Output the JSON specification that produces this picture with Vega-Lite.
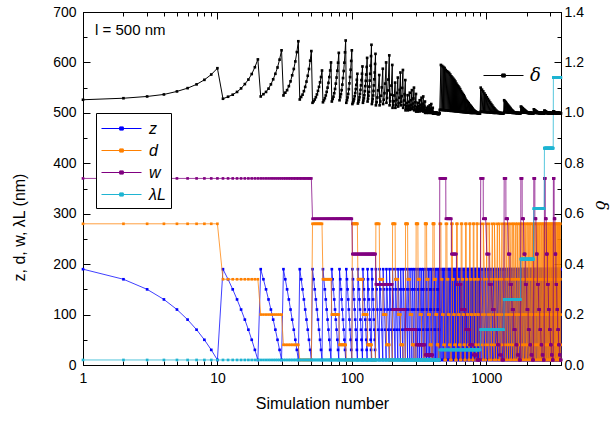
{
"$schema": "https://vega.github.io/schema/vega-lite/v6.json",
"width": 478, "height": 353,
"autosize": {"type": "none"},
"padding": {"left": 83, "top": 12, "right": 50, "bottom": 58},
"config": {
 "font": "Liberation Sans",
 "view": {"stroke": "black", "strokeWidth": 1},
 "axis": {"grid": false, "domainColor": "black", "tickColor": "black", "labelColor": "black", "titleColor": "black", "labelFont": "Liberation Sans", "titleFont": "Liberation Sans", "labelFontSize": 14, "titleFontSize": 16, "titleFontWeight": "normal", "labelFlush": false, "labelOverlap": false, "labelBound": false, "zindex": 1, "tickWidth": 1, "domainWidth": 1}
},
"datasets": {"sim": [
{"n":1,"z":190,"d":280,"w":370,"l":10,"s":1.052},{"n":2,"z":170,"d":280,"w":370,"l":10,"s":1.058},{"n":3,"z":150,"d":280,"w":370,"l":10,"s":1.065},{"n":4,"z":130,"d":280,"w":370,"l":10,"s":1.073},{"n":5,"z":110,"d":280,"w":370,"l":10,"s":1.085},{"n":6,"z":90,"d":280,"w":370,"l":10,"s":1.098},{"n":7,"z":70,"d":280,"w":370,"l":10,"s":1.113},{"n":8,"z":50,"d":280,"w":370,"l":10,"s":1.131},{"n":9,"z":30,"d":280,"w":370,"l":10,"s":1.152},{"n":10,"z":10,"d":280,"w":370,"l":10,"s":1.177},
{"n":11,"z":190,"d":170,"w":370,"l":10,"s":1.056},{"n":12,"z":170,"d":170,"w":370,"l":10,"s":1.064},{"n":13,"z":150,"d":170,"w":370,"l":10,"s":1.072},{"n":14,"z":130,"d":170,"w":370,"l":10,"s":1.083},{"n":15,"z":110,"d":170,"w":370,"l":10,"s":1.097},{"n":16,"z":90,"d":170,"w":370,"l":10,"s":1.114},{"n":17,"z":70,"d":170,"w":370,"l":10,"s":1.132},{"n":18,"z":50,"d":170,"w":370,"l":10,"s":1.154},{"n":19,"z":30,"d":170,"w":370,"l":10,"s":1.181},{"n":20,"z":10,"d":170,"w":370,"l":10,"s":1.212},
{"n":21,"z":190,"d":100,"w":370,"l":10,"s":1.065},{"n":22,"z":170,"d":100,"w":370,"l":10,"s":1.074},{"n":23,"z":150,"d":100,"w":370,"l":10,"s":1.083},{"n":24,"z":130,"d":100,"w":370,"l":10,"s":1.096},{"n":25,"z":110,"d":100,"w":370,"l":10,"s":1.113},{"n":26,"z":90,"d":100,"w":370,"l":10,"s":1.133},{"n":27,"z":70,"d":100,"w":370,"l":10,"s":1.155},{"n":28,"z":50,"d":100,"w":370,"l":10,"s":1.18},{"n":29,"z":30,"d":100,"w":370,"l":10,"s":1.211},{"n":30,"z":10,"d":100,"w":370,"l":10,"s":1.248},
{"n":31,"z":190,"d":40,"w":370,"l":10,"s":1.069},{"n":32,"z":170,"d":40,"w":370,"l":10,"s":1.08},{"n":33,"z":150,"d":40,"w":370,"l":10,"s":1.09},{"n":34,"z":130,"d":40,"w":370,"l":10,"s":1.106},{"n":35,"z":110,"d":40,"w":370,"l":10,"s":1.125},{"n":36,"z":90,"d":40,"w":370,"l":10,"s":1.149},{"n":37,"z":70,"d":40,"w":370,"l":10,"s":1.174},{"n":38,"z":50,"d":40,"w":370,"l":10,"s":1.204},{"n":39,"z":30,"d":40,"w":370,"l":10,"s":1.241},{"n":40,"z":10,"d":40,"w":370,"l":10,"s":1.284},
{"n":41,"z":190,"d":10,"w":370,"l":10,"s":1.053},{"n":42,"z":170,"d":10,"w":370,"l":10,"s":1.063},{"n":43,"z":150,"d":10,"w":370,"l":10,"s":1.072},{"n":44,"z":130,"d":10,"w":370,"l":10,"s":1.086},{"n":45,"z":110,"d":10,"w":370,"l":10,"s":1.103},{"n":46,"z":90,"d":10,"w":370,"l":10,"s":1.124},{"n":47,"z":70,"d":10,"w":370,"l":10,"s":1.147},{"n":48,"z":50,"d":10,"w":370,"l":10,"s":1.174},{"n":49,"z":30,"d":10,"w":370,"l":10,"s":1.207},{"n":50,"z":10,"d":10,"w":370,"l":10,"s":1.245},
{"n":51,"z":190,"d":280,"w":290,"l":10,"s":1.04},{"n":52,"z":170,"d":280,"w":290,"l":10,"s":1.046},{"n":53,"z":150,"d":280,"w":290,"l":10,"s":1.053},{"n":54,"z":130,"d":280,"w":290,"l":10,"s":1.062},{"n":55,"z":110,"d":280,"w":290,"l":10,"s":1.073},{"n":56,"z":90,"d":280,"w":290,"l":10,"s":1.087},{"n":57,"z":70,"d":280,"w":290,"l":10,"s":1.103},{"n":58,"z":50,"d":280,"w":290,"l":10,"s":1.121},{"n":59,"z":30,"d":280,"w":290,"l":10,"s":1.142},{"n":60,"z":10,"d":280,"w":290,"l":10,"s":1.168},
{"n":61,"z":190,"d":170,"w":290,"l":10,"s":1.042},{"n":62,"z":170,"d":170,"w":290,"l":10,"s":1.05},{"n":63,"z":150,"d":170,"w":290,"l":10,"s":1.058},{"n":64,"z":130,"d":170,"w":290,"l":10,"s":1.069},{"n":65,"z":110,"d":170,"w":290,"l":10,"s":1.083},{"n":66,"z":90,"d":170,"w":290,"l":10,"s":1.1},{"n":67,"z":70,"d":170,"w":290,"l":10,"s":1.119},{"n":68,"z":50,"d":170,"w":290,"l":10,"s":1.142},{"n":69,"z":30,"d":170,"w":290,"l":10,"s":1.168},{"n":70,"z":10,"d":170,"w":290,"l":10,"s":1.2},
{"n":71,"z":190,"d":100,"w":290,"l":10,"s":1.045},{"n":72,"z":170,"d":100,"w":290,"l":10,"s":1.055},{"n":73,"z":150,"d":100,"w":290,"l":10,"s":1.064},{"n":74,"z":130,"d":100,"w":290,"l":10,"s":1.078},{"n":75,"z":110,"d":100,"w":290,"l":10,"s":1.095},{"n":76,"z":90,"d":100,"w":290,"l":10,"s":1.116},{"n":77,"z":70,"d":100,"w":290,"l":10,"s":1.14},{"n":78,"z":50,"d":100,"w":290,"l":10,"s":1.167},{"n":79,"z":30,"d":100,"w":290,"l":10,"s":1.199},{"n":80,"z":10,"d":100,"w":290,"l":10,"s":1.238},
{"n":81,"z":190,"d":40,"w":290,"l":10,"s":1.05},{"n":82,"z":170,"d":40,"w":290,"l":10,"s":1.062},{"n":83,"z":150,"d":40,"w":290,"l":10,"s":1.074},{"n":84,"z":130,"d":40,"w":290,"l":10,"s":1.09},{"n":85,"z":110,"d":40,"w":290,"l":10,"s":1.112},{"n":86,"z":90,"d":40,"w":290,"l":10,"s":1.138},{"n":87,"z":70,"d":40,"w":290,"l":10,"s":1.166},{"n":88,"z":50,"d":40,"w":290,"l":10,"s":1.199},{"n":89,"z":30,"d":40,"w":290,"l":10,"s":1.24},{"n":90,"z":10,"d":40,"w":290,"l":10,"s":1.287},
{"n":91,"z":190,"d":10,"w":290,"l":10,"s":1.04},{"n":92,"z":170,"d":10,"w":290,"l":10,"s":1.05},{"n":93,"z":150,"d":10,"w":290,"l":10,"s":1.061},{"n":94,"z":130,"d":10,"w":290,"l":10,"s":1.075},{"n":95,"z":110,"d":10,"w":290,"l":10,"s":1.094},{"n":96,"z":90,"d":10,"w":290,"l":10,"s":1.117},{"n":97,"z":70,"d":10,"w":290,"l":10,"s":1.142},{"n":98,"z":50,"d":10,"w":290,"l":10,"s":1.171},{"n":99,"z":30,"d":10,"w":290,"l":10,"s":1.206},{"n":100,"z":10,"d":10,"w":290,"l":10,"s":1.248},
{"n":101,"z":190,"d":280,"w":220,"l":10,"s":1.035},{"n":102,"z":170,"d":280,"w":220,"l":10,"s":1.041},{"n":103,"z":150,"d":280,"w":220,"l":10,"s":1.047},{"n":104,"z":130,"d":280,"w":220,"l":10,"s":1.055},{"n":105,"z":110,"d":280,"w":220,"l":10,"s":1.066},{"n":106,"z":90,"d":280,"w":220,"l":10,"s":1.079},{"n":107,"z":70,"d":280,"w":220,"l":10,"s":1.094},{"n":108,"z":50,"d":280,"w":220,"l":10,"s":1.111},{"n":109,"z":30,"d":280,"w":220,"l":10,"s":1.131},{"n":110,"z":10,"d":280,"w":220,"l":10,"s":1.155},
{"n":111,"z":190,"d":170,"w":220,"l":10,"s":1.037},{"n":112,"z":170,"d":170,"w":220,"l":10,"s":1.044},{"n":113,"z":150,"d":170,"w":220,"l":10,"s":1.052},{"n":114,"z":130,"d":170,"w":220,"l":10,"s":1.062},{"n":115,"z":110,"d":170,"w":220,"l":10,"s":1.075},{"n":116,"z":90,"d":170,"w":220,"l":10,"s":1.091},{"n":117,"z":70,"d":170,"w":220,"l":10,"s":1.109},{"n":118,"z":50,"d":170,"w":220,"l":10,"s":1.13},{"n":119,"z":30,"d":170,"w":220,"l":10,"s":1.155},{"n":120,"z":10,"d":170,"w":220,"l":10,"s":1.184},
{"n":121,"z":190,"d":100,"w":220,"l":10,"s":1.04},{"n":122,"z":170,"d":100,"w":220,"l":10,"s":1.049},{"n":123,"z":150,"d":100,"w":220,"l":10,"s":1.058},{"n":124,"z":130,"d":100,"w":220,"l":10,"s":1.07},{"n":125,"z":110,"d":100,"w":220,"l":10,"s":1.086},{"n":126,"z":90,"d":100,"w":220,"l":10,"s":1.106},{"n":127,"z":70,"d":100,"w":220,"l":10,"s":1.127},{"n":128,"z":50,"d":100,"w":220,"l":10,"s":1.152},{"n":129,"z":30,"d":100,"w":220,"l":10,"s":1.182},{"n":130,"z":10,"d":100,"w":220,"l":10,"s":1.218},
{"n":131,"z":190,"d":40,"w":220,"l":10,"s":1.045},{"n":132,"z":170,"d":40,"w":220,"l":10,"s":1.056},{"n":133,"z":150,"d":40,"w":220,"l":10,"s":1.068},{"n":134,"z":130,"d":40,"w":220,"l":10,"s":1.083},{"n":135,"z":110,"d":40,"w":220,"l":10,"s":1.104},{"n":136,"z":90,"d":40,"w":220,"l":10,"s":1.128},{"n":137,"z":70,"d":40,"w":220,"l":10,"s":1.155},{"n":138,"z":50,"d":40,"w":220,"l":10,"s":1.187},{"n":139,"z":30,"d":40,"w":220,"l":10,"s":1.225},{"n":140,"z":10,"d":40,"w":220,"l":10,"s":1.27},
{"n":141,"z":190,"d":10,"w":220,"l":10,"s":1.035},{"n":142,"z":170,"d":10,"w":220,"l":10,"s":1.045},{"n":143,"z":150,"d":10,"w":220,"l":10,"s":1.055},{"n":144,"z":130,"d":10,"w":220,"l":10,"s":1.069},{"n":145,"z":110,"d":10,"w":220,"l":10,"s":1.087},{"n":146,"z":90,"d":10,"w":220,"l":10,"s":1.109},{"n":147,"z":70,"d":10,"w":220,"l":10,"s":1.133},{"n":148,"z":50,"d":10,"w":220,"l":10,"s":1.16},{"n":149,"z":30,"d":10,"w":220,"l":10,"s":1.194},{"n":150,"z":10,"d":10,"w":220,"l":10,"s":1.234},
{"n":151,"z":190,"d":280,"w":160,"l":10,"s":1.03},{"n":153,"z":150,"d":280,"w":160,"l":10,"s":1.042},{"n":155,"z":110,"d":280,"w":160,"l":10,"s":1.061},{"n":157,"z":70,"d":280,"w":160,"l":10,"s":1.089},{"n":160,"z":10,"d":280,"w":160,"l":10,"s":1.15},
{"n":161,"z":190,"d":170,"w":160,"l":10,"s":1.03},{"n":163,"z":150,"d":170,"w":160,"l":10,"s":1.045},{"n":165,"z":110,"d":170,"w":160,"l":10,"s":1.068},{"n":167,"z":70,"d":170,"w":160,"l":10,"s":1.101},{"n":170,"z":10,"d":170,"w":160,"l":10,"s":1.175},
{"n":171,"z":190,"d":100,"w":160,"l":10,"s":1.035},{"n":173,"z":150,"d":100,"w":160,"l":10,"s":1.052},{"n":175,"z":110,"d":100,"w":160,"l":10,"s":1.078},{"n":177,"z":70,"d":100,"w":160,"l":10,"s":1.116},{"n":180,"z":10,"d":100,"w":160,"l":10,"s":1.2},
{"n":181,"z":190,"d":40,"w":160,"l":10,"s":1.04},{"n":183,"z":150,"d":40,"w":160,"l":10,"s":1.059},{"n":185,"z":110,"d":40,"w":160,"l":10,"s":1.089},{"n":187,"z":70,"d":40,"w":160,"l":10,"s":1.132},{"n":190,"z":10,"d":40,"w":160,"l":10,"s":1.228},
{"n":191,"z":190,"d":10,"w":160,"l":10,"s":1.03},{"n":193,"z":150,"d":10,"w":160,"l":10,"s":1.046},{"n":195,"z":110,"d":10,"w":160,"l":10,"s":1.072},{"n":197,"z":70,"d":10,"w":160,"l":10,"s":1.108},{"n":200,"z":10,"d":10,"w":160,"l":10,"s":1.19},
{"n":201,"z":190,"d":280,"w":110,"l":10,"s":1.02},{"n":203,"z":150,"d":280,"w":110,"l":10,"s":1.03},{"n":205,"z":110,"d":280,"w":110,"l":10,"s":1.046},{"n":207,"z":70,"d":280,"w":110,"l":10,"s":1.069},{"n":210,"z":10,"d":280,"w":110,"l":10,"s":1.12},
{"n":211,"z":190,"d":170,"w":110,"l":10,"s":1.02},{"n":213,"z":150,"d":170,"w":110,"l":10,"s":1.032},{"n":215,"z":110,"d":170,"w":110,"l":10,"s":1.051},{"n":217,"z":70,"d":170,"w":110,"l":10,"s":1.079},{"n":220,"z":10,"d":170,"w":110,"l":10,"s":1.14},
{"n":221,"z":190,"d":100,"w":110,"l":10,"s":1.025},{"n":223,"z":150,"d":100,"w":110,"l":10,"s":1.039},{"n":225,"z":110,"d":100,"w":110,"l":10,"s":1.06},{"n":227,"z":70,"d":100,"w":110,"l":10,"s":1.091},{"n":230,"z":10,"d":100,"w":110,"l":10,"s":1.16},
{"n":231,"z":190,"d":40,"w":110,"l":10,"s":1.03},{"n":233,"z":150,"d":40,"w":110,"l":10,"s":1.044},{"n":235,"z":110,"d":40,"w":110,"l":10,"s":1.066},{"n":237,"z":70,"d":40,"w":110,"l":10,"s":1.099},{"n":240,"z":10,"d":40,"w":110,"l":10,"s":1.17},
{"n":241,"z":190,"d":10,"w":110,"l":10,"s":1.02},{"n":243,"z":150,"d":10,"w":110,"l":10,"s":1.031},{"n":245,"z":110,"d":10,"w":110,"l":10,"s":1.049},{"n":247,"z":70,"d":10,"w":110,"l":10,"s":1.074},{"n":250,"z":10,"d":10,"w":110,"l":10,"s":1.13},
{"n":251,"z":190,"d":280,"w":70,"l":10,"s":1.01},{"n":253,"z":150,"d":280,"w":70,"l":10,"s":1.016},{"n":255,"z":110,"d":280,"w":70,"l":10,"s":1.026},{"n":257,"z":70,"d":280,"w":70,"l":10,"s":1.039},{"n":260,"z":10,"d":280,"w":70,"l":10,"s":1.07},
{"n":261,"z":190,"d":170,"w":70,"l":10,"s":1.01},{"n":263,"z":150,"d":170,"w":70,"l":10,"s":1.017},{"n":265,"z":110,"d":170,"w":70,"l":10,"s":1.028},{"n":267,"z":70,"d":170,"w":70,"l":10,"s":1.044},{"n":270,"z":10,"d":170,"w":70,"l":10,"s":1.08},
{"n":271,"z":190,"d":100,"w":70,"l":10,"s":1.012},{"n":273,"z":150,"d":100,"w":70,"l":10,"s":1.02},{"n":275,"z":110,"d":100,"w":70,"l":10,"s":1.032},{"n":277,"z":70,"d":100,"w":70,"l":10,"s":1.05},{"n":280,"z":10,"d":100,"w":70,"l":10,"s":1.09},
{"n":281,"z":190,"d":40,"w":70,"l":10,"s":1.015},{"n":283,"z":150,"d":40,"w":70,"l":10,"s":1.024},{"n":285,"z":110,"d":40,"w":70,"l":10,"s":1.037},{"n":287,"z":70,"d":40,"w":70,"l":10,"s":1.057},{"n":290,"z":10,"d":40,"w":70,"l":10,"s":1.1},
{"n":291,"z":190,"d":10,"w":70,"l":10,"s":1.01},{"n":293,"z":150,"d":10,"w":70,"l":10,"s":1.017},{"n":295,"z":110,"d":10,"w":70,"l":10,"s":1.027},{"n":297,"z":70,"d":10,"w":70,"l":10,"s":1.042},{"n":300,"z":10,"d":10,"w":70,"l":10,"s":1.075},
{"n":301,"z":190,"d":280,"w":40,"l":10,"s":1.005},{"n":303,"z":150,"d":280,"w":40,"l":10,"s":1.009},{"n":305,"z":110,"d":280,"w":40,"l":10,"s":1.014},{"n":307,"z":70,"d":280,"w":40,"l":10,"s":1.022},{"n":310,"z":10,"d":280,"w":40,"l":10,"s":1.04},
{"n":311,"z":190,"d":170,"w":40,"l":10,"s":1.005},{"n":313,"z":150,"d":170,"w":40,"l":10,"s":1.01},{"n":315,"z":110,"d":170,"w":40,"l":10,"s":1.017},{"n":317,"z":70,"d":170,"w":40,"l":10,"s":1.027},{"n":320,"z":10,"d":170,"w":40,"l":10,"s":1.05},
{"n":321,"z":190,"d":100,"w":40,"l":10,"s":1.006},{"n":323,"z":150,"d":100,"w":40,"l":10,"s":1.011},{"n":325,"z":110,"d":100,"w":40,"l":10,"s":1.02},{"n":327,"z":70,"d":100,"w":40,"l":10,"s":1.032},{"n":330,"z":10,"d":100,"w":40,"l":10,"s":1.06},
{"n":331,"z":190,"d":40,"w":40,"l":10,"s":1.008},{"n":333,"z":150,"d":40,"w":40,"l":10,"s":1.014},{"n":335,"z":110,"d":40,"w":40,"l":10,"s":1.023},{"n":337,"z":70,"d":40,"w":40,"l":10,"s":1.036},{"n":340,"z":10,"d":40,"w":40,"l":10,"s":1.065},
{"n":341,"z":190,"d":10,"w":40,"l":10,"s":1.005},{"n":343,"z":150,"d":10,"w":40,"l":10,"s":1.009},{"n":345,"z":110,"d":10,"w":40,"l":10,"s":1.015},{"n":347,"z":70,"d":10,"w":40,"l":10,"s":1.025},{"n":350,"z":10,"d":10,"w":40,"l":10,"s":1.045},
{"n":351,"z":190,"d":280,"w":20,"l":10,"s":1.0},{"n":353,"z":150,"d":280,"w":20,"l":10,"s":1.002},{"n":355,"z":110,"d":280,"w":20,"l":10,"s":1.005},{"n":357,"z":70,"d":280,"w":20,"l":10,"s":1.01},{"n":360,"z":10,"d":280,"w":20,"l":10,"s":1.02},
{"n":361,"z":190,"d":170,"w":20,"l":10,"s":1.0},{"n":363,"z":150,"d":170,"w":20,"l":10,"s":1.003},{"n":365,"z":110,"d":170,"w":20,"l":10,"s":1.007},{"n":367,"z":70,"d":170,"w":20,"l":10,"s":1.012},{"n":370,"z":10,"d":170,"w":20,"l":10,"s":1.025},
{"n":371,"z":190,"d":100,"w":20,"l":10,"s":1.0},{"n":373,"z":150,"d":100,"w":20,"l":10,"s":1.003},{"n":375,"z":110,"d":100,"w":20,"l":10,"s":1.008},{"n":377,"z":70,"d":100,"w":20,"l":10,"s":1.015},{"n":380,"z":10,"d":100,"w":20,"l":10,"s":1.03},
{"n":381,"z":190,"d":40,"w":20,"l":10,"s":1.0},{"n":383,"z":150,"d":40,"w":20,"l":10,"s":1.004},{"n":385,"z":110,"d":40,"w":20,"l":10,"s":1.009},{"n":387,"z":70,"d":40,"w":20,"l":10,"s":1.017},{"n":390,"z":10,"d":40,"w":20,"l":10,"s":1.035},
{"n":391,"z":190,"d":10,"w":20,"l":10,"s":1.0},{"n":393,"z":150,"d":10,"w":20,"l":10,"s":1.002},{"n":395,"z":110,"d":10,"w":20,"l":10,"s":1.005},{"n":397,"z":70,"d":10,"w":20,"l":10,"s":1.01},{"n":400,"z":10,"d":10,"w":20,"l":10,"s":1.02},
{"n":401,"z":190,"d":280,"w":10,"l":10,"s":0.998},{"n":403,"z":150,"d":280,"w":10,"l":10,"s":0.998},{"n":405,"z":110,"d":280,"w":10,"l":10,"s":0.999},{"n":407,"z":70,"d":280,"w":10,"l":10,"s":1.0},{"n":410,"z":10,"d":280,"w":10,"l":10,"s":1.002},
{"n":411,"z":190,"d":170,"w":10,"l":10,"s":0.998},{"n":413,"z":150,"d":170,"w":10,"l":10,"s":0.998},{"n":415,"z":110,"d":170,"w":10,"l":10,"s":0.999},{"n":417,"z":70,"d":170,"w":10,"l":10,"s":1.0},{"n":420,"z":10,"d":170,"w":10,"l":10,"s":1.002},
{"n":421,"z":190,"d":100,"w":10,"l":10,"s":0.997},{"n":423,"z":150,"d":100,"w":10,"l":10,"s":0.997},{"n":425,"z":110,"d":100,"w":10,"l":10,"s":0.998},{"n":427,"z":70,"d":100,"w":10,"l":10,"s":0.999},{"n":430,"z":10,"d":100,"w":10,"l":10,"s":1.001},
{"n":431,"z":190,"d":40,"w":10,"l":10,"s":0.996},{"n":433,"z":150,"d":40,"w":10,"l":10,"s":0.996},{"n":435,"z":110,"d":40,"w":10,"l":10,"s":0.997},{"n":437,"z":70,"d":40,"w":10,"l":10,"s":0.998},{"n":440,"z":10,"d":40,"w":10,"l":10,"s":1.0},
{"n":441,"z":190,"d":10,"w":10,"l":10,"s":0.995},{"n":443,"z":150,"d":10,"w":10,"l":10,"s":0.995},{"n":445,"z":110,"d":10,"w":10,"l":10,"s":0.996},{"n":447,"z":70,"d":10,"w":10,"l":10,"s":0.997},{"n":450,"z":10,"d":10,"w":10,"l":10,"s":0.999},
{"n":451,"z":190,"d":280,"w":370,"l":30,"s":1.012},{"n":460,"z":10,"d":280,"w":370,"l":30,"s":1.19},{"n":461,"z":190,"d":170,"w":370,"l":30,"s":1.012},{"n":470,"z":10,"d":170,"w":370,"l":30,"s":1.186},{"n":471,"z":190,"d":100,"w":370,"l":30,"s":1.011},{"n":480,"z":10,"d":100,"w":370,"l":30,"s":1.182},{"n":481,"z":190,"d":40,"w":370,"l":30,"s":1.011},{"n":490,"z":10,"d":40,"w":370,"l":30,"s":1.178},{"n":491,"z":190,"d":10,"w":370,"l":30,"s":1.01},{"n":500,"z":10,"d":10,"w":370,"l":30,"s":1.17},
{"n":501,"z":190,"d":280,"w":290,"l":30,"s":1.01},{"n":510,"z":10,"d":280,"w":290,"l":30,"s":1.165},{"n":511,"z":190,"d":170,"w":290,"l":30,"s":1.01},{"n":520,"z":10,"d":170,"w":290,"l":30,"s":1.162},{"n":521,"z":190,"d":100,"w":290,"l":30,"s":1.009},{"n":530,"z":10,"d":100,"w":290,"l":30,"s":1.158},{"n":531,"z":190,"d":40,"w":290,"l":30,"s":1.009},{"n":540,"z":10,"d":40,"w":290,"l":30,"s":1.152},{"n":541,"z":190,"d":10,"w":290,"l":30,"s":1.008},{"n":550,"z":10,"d":10,"w":290,"l":30,"s":1.145},
{"n":551,"z":190,"d":280,"w":220,"l":30,"s":1.008},{"n":560,"z":10,"d":280,"w":220,"l":30,"s":1.14},{"n":561,"z":190,"d":170,"w":220,"l":30,"s":1.008},{"n":570,"z":10,"d":170,"w":220,"l":30,"s":1.135},{"n":571,"z":190,"d":100,"w":220,"l":30,"s":1.007},{"n":580,"z":10,"d":100,"w":220,"l":30,"s":1.13},{"n":581,"z":190,"d":40,"w":220,"l":30,"s":1.007},{"n":590,"z":10,"d":40,"w":220,"l":30,"s":1.124},{"n":591,"z":190,"d":10,"w":220,"l":30,"s":1.006},{"n":600,"z":10,"d":10,"w":220,"l":30,"s":1.116},
{"n":601,"z":190,"d":280,"w":160,"l":30,"s":1.006},{"n":610,"z":10,"d":280,"w":160,"l":30,"s":1.11},{"n":611,"z":190,"d":170,"w":160,"l":30,"s":1.006},{"n":620,"z":10,"d":170,"w":160,"l":30,"s":1.105},{"n":621,"z":190,"d":100,"w":160,"l":30,"s":1.005},{"n":630,"z":10,"d":100,"w":160,"l":30,"s":1.1},{"n":631,"z":190,"d":40,"w":160,"l":30,"s":1.005},{"n":640,"z":10,"d":40,"w":160,"l":30,"s":1.094},{"n":641,"z":190,"d":10,"w":160,"l":30,"s":1.004},{"n":650,"z":10,"d":10,"w":160,"l":30,"s":1.086},
{"n":651,"z":190,"d":280,"w":110,"l":30,"s":1.004},{"n":660,"z":10,"d":280,"w":110,"l":30,"s":1.08},{"n":661,"z":190,"d":170,"w":110,"l":30,"s":1.004},{"n":670,"z":10,"d":170,"w":110,"l":30,"s":1.075},{"n":671,"z":190,"d":100,"w":110,"l":30,"s":1.003},{"n":680,"z":10,"d":100,"w":110,"l":30,"s":1.07},{"n":681,"z":190,"d":40,"w":110,"l":30,"s":1.003},{"n":690,"z":10,"d":40,"w":110,"l":30,"s":1.064},{"n":691,"z":190,"d":10,"w":110,"l":30,"s":1.003},{"n":700,"z":10,"d":10,"w":110,"l":30,"s":1.056},
{"n":701,"z":190,"d":280,"w":70,"l":30,"s":1.002},{"n":710,"z":10,"d":280,"w":70,"l":30,"s":1.05},{"n":711,"z":190,"d":170,"w":70,"l":30,"s":1.002},{"n":720,"z":10,"d":170,"w":70,"l":30,"s":1.046},{"n":721,"z":190,"d":100,"w":70,"l":30,"s":1.002},{"n":730,"z":10,"d":100,"w":70,"l":30,"s":1.042},{"n":731,"z":190,"d":40,"w":70,"l":30,"s":1.001},{"n":740,"z":10,"d":40,"w":70,"l":30,"s":1.038},{"n":741,"z":190,"d":10,"w":70,"l":30,"s":1.001},{"n":750,"z":10,"d":10,"w":70,"l":30,"s":1.033},
{"n":751,"z":190,"d":280,"w":40,"l":30,"s":1.001},{"n":760,"z":10,"d":280,"w":40,"l":30,"s":1.03},{"n":761,"z":190,"d":170,"w":40,"l":30,"s":1.0},{"n":770,"z":10,"d":170,"w":40,"l":30,"s":1.026},{"n":771,"z":190,"d":100,"w":40,"l":30,"s":1.0},{"n":780,"z":10,"d":100,"w":40,"l":30,"s":1.022},{"n":781,"z":190,"d":40,"w":40,"l":30,"s":1.0},{"n":790,"z":10,"d":40,"w":40,"l":30,"s":1.018},{"n":791,"z":190,"d":10,"w":40,"l":30,"s":1.0},{"n":800,"z":10,"d":10,"w":40,"l":30,"s":1.014},
{"n":801,"z":190,"d":280,"w":20,"l":30,"s":1.0},{"n":810,"z":10,"d":280,"w":20,"l":30,"s":1.01},{"n":811,"z":190,"d":170,"w":20,"l":30,"s":1.0},{"n":820,"z":10,"d":170,"w":20,"l":30,"s":1.008},{"n":821,"z":190,"d":100,"w":20,"l":30,"s":1.0},{"n":830,"z":10,"d":100,"w":20,"l":30,"s":1.006},{"n":831,"z":190,"d":40,"w":20,"l":30,"s":1.0},{"n":840,"z":10,"d":40,"w":20,"l":30,"s":1.004},{"n":841,"z":190,"d":10,"w":20,"l":30,"s":1.0},{"n":850,"z":10,"d":10,"w":20,"l":30,"s":1.002},
{"n":851,"z":190,"d":280,"w":10,"l":30,"s":0.999},{"n":860,"z":10,"d":280,"w":10,"l":30,"s":1.0},{"n":861,"z":190,"d":170,"w":10,"l":30,"s":0.999},{"n":870,"z":10,"d":170,"w":10,"l":30,"s":1.0},{"n":871,"z":190,"d":100,"w":10,"l":30,"s":0.998},{"n":880,"z":10,"d":100,"w":10,"l":30,"s":1.0},{"n":881,"z":190,"d":40,"w":10,"l":30,"s":0.998},{"n":890,"z":10,"d":40,"w":10,"l":30,"s":0.999},{"n":891,"z":190,"d":10,"w":10,"l":30,"s":0.997},{"n":900,"z":10,"d":10,"w":10,"l":30,"s":0.998},
{"n":910,"z":10,"d":280,"w":370,"l":70,"s":1.1},{"n":911,"z":190,"d":170,"w":370,"l":70,"s":1.005},{"n":930,"z":10,"d":100,"w":370,"l":70,"s":1.092},{"n":931,"z":190,"d":40,"w":370,"l":70,"s":1.004},{"n":950,"z":10,"d":10,"w":370,"l":70,"s":1.085},
{"n":951,"z":190,"d":280,"w":290,"l":70,"s":1.004},{"n":970,"z":10,"d":170,"w":290,"l":70,"s":1.077},{"n":971,"z":190,"d":100,"w":290,"l":70,"s":1.003},{"n":990,"z":10,"d":40,"w":290,"l":70,"s":1.07},{"n":991,"z":190,"d":10,"w":290,"l":70,"s":1.003},
{"n":1010,"z":10,"d":280,"w":220,"l":70,"s":1.062},{"n":1011,"z":190,"d":170,"w":220,"l":70,"s":1.002},{"n":1030,"z":10,"d":100,"w":220,"l":70,"s":1.055},{"n":1031,"z":190,"d":40,"w":220,"l":70,"s":1.002},{"n":1050,"z":10,"d":10,"w":220,"l":70,"s":1.048},
{"n":1051,"z":190,"d":280,"w":160,"l":70,"s":1.002},{"n":1070,"z":10,"d":170,"w":160,"l":70,"s":1.041},{"n":1071,"z":190,"d":100,"w":160,"l":70,"s":1.001},{"n":1090,"z":10,"d":40,"w":160,"l":70,"s":1.035},{"n":1091,"z":190,"d":10,"w":160,"l":70,"s":1.001},
{"n":1110,"z":10,"d":280,"w":110,"l":70,"s":1.029},{"n":1111,"z":190,"d":170,"w":110,"l":70,"s":1.001},{"n":1130,"z":10,"d":100,"w":110,"l":70,"s":1.023},{"n":1131,"z":190,"d":40,"w":110,"l":70,"s":1.0},{"n":1150,"z":10,"d":10,"w":110,"l":70,"s":1.018},
{"n":1151,"z":190,"d":280,"w":70,"l":70,"s":1.0},{"n":1170,"z":10,"d":170,"w":70,"l":70,"s":1.013},{"n":1171,"z":190,"d":100,"w":70,"l":70,"s":1.0},{"n":1190,"z":10,"d":40,"w":70,"l":70,"s":1.009},{"n":1191,"z":190,"d":10,"w":70,"l":70,"s":1.0},
{"n":1210,"z":10,"d":280,"w":40,"l":70,"s":1.005},{"n":1211,"z":190,"d":170,"w":40,"l":70,"s":1.0},{"n":1230,"z":10,"d":100,"w":40,"l":70,"s":1.003},{"n":1231,"z":190,"d":40,"w":40,"l":70,"s":0.999},{"n":1250,"z":10,"d":10,"w":40,"l":70,"s":1.001},
{"n":1251,"z":190,"d":280,"w":20,"l":70,"s":0.999},{"n":1270,"z":10,"d":170,"w":20,"l":70,"s":1.0},{"n":1271,"z":190,"d":100,"w":20,"l":70,"s":0.998},{"n":1290,"z":10,"d":40,"w":20,"l":70,"s":1.0},{"n":1291,"z":190,"d":10,"w":20,"l":70,"s":0.998},
{"n":1310,"z":10,"d":280,"w":10,"l":70,"s":0.999},{"n":1311,"z":190,"d":170,"w":10,"l":70,"s":0.998},{"n":1330,"z":10,"d":100,"w":10,"l":70,"s":0.999},{"n":1331,"z":190,"d":40,"w":10,"l":70,"s":0.997},{"n":1350,"z":10,"d":10,"w":10,"l":70,"s":0.998},
{"n":1360,"z":10,"d":280,"w":370,"l":130,"s":1.05},{"n":1361,"z":190,"d":170,"w":370,"l":130,"s":1.003},{"n":1380,"z":10,"d":100,"w":370,"l":130,"s":1.046},{"n":1381,"z":190,"d":40,"w":370,"l":130,"s":1.003},{"n":1400,"z":10,"d":10,"w":370,"l":130,"s":1.042},
{"n":1401,"z":190,"d":280,"w":290,"l":130,"s":1.003},{"n":1420,"z":10,"d":170,"w":290,"l":130,"s":1.037},{"n":1421,"z":190,"d":100,"w":290,"l":130,"s":1.002},{"n":1440,"z":10,"d":40,"w":290,"l":130,"s":1.033},{"n":1441,"z":190,"d":10,"w":290,"l":130,"s":1.002},
{"n":1460,"z":10,"d":280,"w":220,"l":130,"s":1.029},{"n":1461,"z":190,"d":170,"w":220,"l":130,"s":1.002},{"n":1480,"z":10,"d":100,"w":220,"l":130,"s":1.025},{"n":1481,"z":190,"d":40,"w":220,"l":130,"s":1.001},{"n":1500,"z":10,"d":10,"w":220,"l":130,"s":1.021},
{"n":1501,"z":190,"d":280,"w":160,"l":130,"s":1.001},{"n":1520,"z":10,"d":170,"w":160,"l":130,"s":1.017},{"n":1521,"z":190,"d":100,"w":160,"l":130,"s":1.001},{"n":1540,"z":10,"d":40,"w":160,"l":130,"s":1.013},{"n":1541,"z":190,"d":10,"w":160,"l":130,"s":1.001},
{"n":1560,"z":10,"d":280,"w":110,"l":130,"s":1.01},{"n":1561,"z":190,"d":170,"w":110,"l":130,"s":1.0},{"n":1580,"z":10,"d":100,"w":110,"l":130,"s":1.007},{"n":1581,"z":190,"d":40,"w":110,"l":130,"s":1.0},{"n":1600,"z":10,"d":10,"w":110,"l":130,"s":1.004},
{"n":1601,"z":190,"d":280,"w":70,"l":130,"s":1.0},{"n":1620,"z":10,"d":170,"w":70,"l":130,"s":1.002},{"n":1621,"z":190,"d":100,"w":70,"l":130,"s":1.0},{"n":1640,"z":10,"d":40,"w":70,"l":130,"s":1.001},{"n":1641,"z":190,"d":10,"w":70,"l":130,"s":1.0},
{"n":1660,"z":10,"d":280,"w":40,"l":130,"s":1.0},{"n":1661,"z":190,"d":170,"w":40,"l":130,"s":0.999},{"n":1680,"z":10,"d":100,"w":40,"l":130,"s":1.0},{"n":1681,"z":190,"d":40,"w":40,"l":130,"s":0.999},{"n":1700,"z":10,"d":10,"w":40,"l":130,"s":1.0},
{"n":1701,"z":190,"d":280,"w":20,"l":130,"s":0.999},{"n":1720,"z":10,"d":170,"w":20,"l":130,"s":1.0},{"n":1721,"z":190,"d":100,"w":20,"l":130,"s":0.999},{"n":1740,"z":10,"d":40,"w":20,"l":130,"s":1.0},{"n":1741,"z":190,"d":10,"w":20,"l":130,"s":0.999},
{"n":1760,"z":10,"d":280,"w":10,"l":130,"s":0.999},{"n":1761,"z":190,"d":170,"w":10,"l":130,"s":0.998},{"n":1780,"z":10,"d":100,"w":10,"l":130,"s":0.999},{"n":1781,"z":190,"d":40,"w":10,"l":130,"s":0.998},{"n":1800,"z":10,"d":10,"w":10,"l":130,"s":0.998},
{"n":1810,"z":10,"d":280,"w":370,"l":210,"s":1.025},{"n":1811,"z":190,"d":170,"w":370,"l":210,"s":1.002},{"n":1830,"z":10,"d":100,"w":370,"l":210,"s":1.023},{"n":1831,"z":190,"d":40,"w":370,"l":210,"s":1.002},{"n":1850,"z":10,"d":10,"w":370,"l":210,"s":1.02},
{"n":1851,"z":190,"d":280,"w":290,"l":210,"s":1.002},{"n":1870,"z":10,"d":170,"w":290,"l":210,"s":1.018},{"n":1871,"z":190,"d":100,"w":290,"l":210,"s":1.002},{"n":1890,"z":10,"d":40,"w":290,"l":210,"s":1.015},{"n":1891,"z":190,"d":10,"w":290,"l":210,"s":1.002},
{"n":1910,"z":10,"d":280,"w":220,"l":210,"s":1.013},{"n":1911,"z":190,"d":170,"w":220,"l":210,"s":1.001},{"n":1930,"z":10,"d":100,"w":220,"l":210,"s":1.011},{"n":1931,"z":190,"d":40,"w":220,"l":210,"s":1.001},{"n":1950,"z":10,"d":10,"w":220,"l":210,"s":1.009},
{"n":1951,"z":190,"d":280,"w":160,"l":210,"s":1.001},{"n":1970,"z":10,"d":170,"w":160,"l":210,"s":1.007},{"n":1971,"z":190,"d":100,"w":160,"l":210,"s":1.001},{"n":1990,"z":10,"d":40,"w":160,"l":210,"s":1.005},{"n":1991,"z":190,"d":10,"w":160,"l":210,"s":1.001},
{"n":2010,"z":10,"d":280,"w":110,"l":210,"s":1.003},{"n":2011,"z":190,"d":170,"w":110,"l":210,"s":1.0},{"n":2030,"z":10,"d":100,"w":110,"l":210,"s":1.002},{"n":2031,"z":190,"d":40,"w":110,"l":210,"s":1.0},{"n":2050,"z":10,"d":10,"w":110,"l":210,"s":1.001},
{"n":2051,"z":190,"d":280,"w":70,"l":210,"s":1.0},{"n":2070,"z":10,"d":170,"w":70,"l":210,"s":1.0},{"n":2071,"z":190,"d":100,"w":70,"l":210,"s":0.999},{"n":2090,"z":10,"d":40,"w":70,"l":210,"s":1.0},{"n":2091,"z":190,"d":10,"w":70,"l":210,"s":0.999},
{"n":2110,"z":10,"d":280,"w":40,"l":210,"s":1.0},{"n":2111,"z":190,"d":170,"w":40,"l":210,"s":0.999},{"n":2130,"z":10,"d":100,"w":40,"l":210,"s":1.0},{"n":2131,"z":190,"d":40,"w":40,"l":210,"s":0.999},{"n":2150,"z":10,"d":10,"w":40,"l":210,"s":1.0},
{"n":2151,"z":190,"d":280,"w":20,"l":210,"s":0.999},{"n":2170,"z":10,"d":170,"w":20,"l":210,"s":1.0},{"n":2171,"z":190,"d":100,"w":20,"l":210,"s":0.999},{"n":2190,"z":10,"d":40,"w":20,"l":210,"s":0.999},{"n":2191,"z":190,"d":10,"w":20,"l":210,"s":0.999},
{"n":2210,"z":10,"d":280,"w":10,"l":210,"s":0.999},{"n":2211,"z":190,"d":170,"w":10,"l":210,"s":0.998},{"n":2230,"z":10,"d":100,"w":10,"l":210,"s":0.999},{"n":2231,"z":190,"d":40,"w":10,"l":210,"s":0.998},{"n":2250,"z":10,"d":10,"w":10,"l":210,"s":0.998},
{"n":2260,"z":10,"d":280,"w":370,"l":310,"s":1.014},{"n":2261,"z":190,"d":170,"w":370,"l":310,"s":1.001},{"n":2280,"z":10,"d":100,"w":370,"l":310,"s":1.012},{"n":2281,"z":190,"d":40,"w":370,"l":310,"s":1.001},{"n":2300,"z":10,"d":10,"w":370,"l":310,"s":1.01},
{"n":2301,"z":190,"d":280,"w":290,"l":310,"s":1.001},{"n":2320,"z":10,"d":170,"w":290,"l":310,"s":1.009},{"n":2321,"z":190,"d":100,"w":290,"l":310,"s":1.001},{"n":2340,"z":10,"d":40,"w":290,"l":310,"s":1.007},{"n":2341,"z":190,"d":10,"w":290,"l":310,"s":1.0},
{"n":2360,"z":10,"d":280,"w":220,"l":310,"s":1.006},{"n":2361,"z":190,"d":170,"w":220,"l":310,"s":1.0},{"n":2380,"z":10,"d":100,"w":220,"l":310,"s":1.004},{"n":2381,"z":190,"d":40,"w":220,"l":310,"s":1.0},{"n":2400,"z":10,"d":10,"w":220,"l":310,"s":1.003},
{"n":2401,"z":190,"d":280,"w":160,"l":310,"s":1.0},{"n":2420,"z":10,"d":170,"w":160,"l":310,"s":1.002},{"n":2421,"z":190,"d":100,"w":160,"l":310,"s":1.0},{"n":2440,"z":10,"d":40,"w":160,"l":310,"s":1.001},{"n":2441,"z":190,"d":10,"w":160,"l":310,"s":1.0},
{"n":2460,"z":10,"d":280,"w":110,"l":310,"s":1.0},{"n":2461,"z":190,"d":170,"w":110,"l":310,"s":0.999},{"n":2480,"z":10,"d":100,"w":110,"l":310,"s":1.0},{"n":2481,"z":190,"d":40,"w":110,"l":310,"s":0.999},{"n":2500,"z":10,"d":10,"w":110,"l":310,"s":1.0},
{"n":2501,"z":190,"d":280,"w":70,"l":310,"s":0.999},{"n":2520,"z":10,"d":170,"w":70,"l":310,"s":1.0},{"n":2521,"z":190,"d":100,"w":70,"l":310,"s":0.999},{"n":2540,"z":10,"d":40,"w":70,"l":310,"s":1.0},{"n":2541,"z":190,"d":10,"w":70,"l":310,"s":0.999},
{"n":2560,"z":10,"d":280,"w":40,"l":310,"s":1.0},{"n":2561,"z":190,"d":170,"w":40,"l":310,"s":0.999},{"n":2580,"z":10,"d":100,"w":40,"l":310,"s":1.0},{"n":2581,"z":190,"d":40,"w":40,"l":310,"s":0.999},{"n":2600,"z":10,"d":10,"w":40,"l":310,"s":1.0},
{"n":2601,"z":190,"d":280,"w":20,"l":310,"s":0.999},{"n":2620,"z":10,"d":170,"w":20,"l":310,"s":0.999},{"n":2621,"z":190,"d":100,"w":20,"l":310,"s":0.999},{"n":2640,"z":10,"d":40,"w":20,"l":310,"s":0.999},{"n":2641,"z":190,"d":10,"w":20,"l":310,"s":0.999},
{"n":2660,"z":10,"d":280,"w":10,"l":310,"s":0.999},{"n":2661,"z":190,"d":170,"w":10,"l":310,"s":0.998},{"n":2680,"z":10,"d":100,"w":10,"l":310,"s":0.999},{"n":2681,"z":190,"d":40,"w":10,"l":310,"s":0.998},{"n":2700,"z":10,"d":10,"w":10,"l":310,"s":0.998},
{"n":2710,"z":10,"d":280,"w":370,"l":430,"s":1.009},{"n":2711,"z":190,"d":170,"w":370,"l":430,"s":1.0},{"n":2730,"z":10,"d":100,"w":370,"l":430,"s":1.008},{"n":2731,"z":190,"d":40,"w":370,"l":430,"s":1.0},{"n":2750,"z":10,"d":10,"w":370,"l":430,"s":1.006},
{"n":2751,"z":190,"d":280,"w":290,"l":430,"s":1.0},{"n":2770,"z":10,"d":170,"w":290,"l":430,"s":1.005},{"n":2771,"z":190,"d":100,"w":290,"l":430,"s":1.0},{"n":2790,"z":10,"d":40,"w":290,"l":430,"s":1.004},{"n":2791,"z":190,"d":10,"w":290,"l":430,"s":1.0},
{"n":2810,"z":10,"d":280,"w":220,"l":430,"s":1.003},{"n":2811,"z":190,"d":170,"w":220,"l":430,"s":1.0},{"n":2830,"z":10,"d":100,"w":220,"l":430,"s":1.002},{"n":2831,"z":190,"d":40,"w":220,"l":430,"s":1.0},{"n":2850,"z":10,"d":10,"w":220,"l":430,"s":1.001},
{"n":2851,"z":190,"d":280,"w":160,"l":430,"s":0.999},{"n":2870,"z":10,"d":170,"w":160,"l":430,"s":1.0},{"n":2871,"z":190,"d":100,"w":160,"l":430,"s":0.999},{"n":2890,"z":10,"d":40,"w":160,"l":430,"s":1.0},{"n":2891,"z":190,"d":10,"w":160,"l":430,"s":0.999},
{"n":2910,"z":10,"d":280,"w":110,"l":430,"s":1.0},{"n":2911,"z":190,"d":170,"w":110,"l":430,"s":0.999},{"n":2930,"z":10,"d":100,"w":110,"l":430,"s":1.0},{"n":2931,"z":190,"d":40,"w":110,"l":430,"s":0.999},{"n":2950,"z":10,"d":10,"w":110,"l":430,"s":1.0},
{"n":2951,"z":190,"d":280,"w":70,"l":430,"s":0.999},{"n":2970,"z":10,"d":170,"w":70,"l":430,"s":1.0},{"n":2971,"z":190,"d":100,"w":70,"l":430,"s":0.999},{"n":2990,"z":10,"d":40,"w":70,"l":430,"s":1.0},{"n":2991,"z":190,"d":10,"w":70,"l":430,"s":0.999},
{"n":3010,"z":10,"d":280,"w":40,"l":430,"s":0.999},{"n":3011,"z":190,"d":170,"w":40,"l":430,"s":0.999},{"n":3030,"z":10,"d":100,"w":40,"l":430,"s":0.999},{"n":3031,"z":190,"d":40,"w":40,"l":430,"s":0.999},{"n":3050,"z":10,"d":10,"w":40,"l":430,"s":0.999},
{"n":3051,"z":190,"d":280,"w":20,"l":430,"s":0.999},{"n":3070,"z":10,"d":170,"w":20,"l":430,"s":0.999},{"n":3071,"z":190,"d":100,"w":20,"l":430,"s":0.999},{"n":3090,"z":10,"d":40,"w":20,"l":430,"s":0.999},{"n":3091,"z":190,"d":10,"w":20,"l":430,"s":0.998},
{"n":3110,"z":10,"d":280,"w":10,"l":430,"s":0.999},{"n":3111,"z":190,"d":170,"w":10,"l":430,"s":0.998},{"n":3130,"z":10,"d":100,"w":10,"l":430,"s":0.998},{"n":3131,"z":190,"d":40,"w":10,"l":430,"s":0.998},{"n":3150,"z":10,"d":10,"w":10,"l":430,"s":0.998},
{"n":3160,"z":10,"d":280,"w":370,"l":570,"s":1.006},{"n":3161,"z":190,"d":170,"w":370,"l":570,"s":1.0},{"n":3180,"z":10,"d":100,"w":370,"l":570,"s":1.005},{"n":3181,"z":190,"d":40,"w":370,"l":570,"s":1.0},{"n":3200,"z":10,"d":10,"w":370,"l":570,"s":1.004},
{"n":3201,"z":190,"d":280,"w":290,"l":570,"s":1.0},{"n":3220,"z":10,"d":170,"w":290,"l":570,"s":1.003},{"n":3221,"z":190,"d":100,"w":290,"l":570,"s":1.0},{"n":3240,"z":10,"d":40,"w":290,"l":570,"s":1.002},{"n":3241,"z":190,"d":10,"w":290,"l":570,"s":1.0},
{"n":3260,"z":10,"d":280,"w":220,"l":570,"s":1.001},{"n":3261,"z":190,"d":170,"w":220,"l":570,"s":0.999},{"n":3280,"z":10,"d":100,"w":220,"l":570,"s":1.0},{"n":3281,"z":190,"d":40,"w":220,"l":570,"s":0.999},{"n":3300,"z":10,"d":10,"w":220,"l":570,"s":1.0},
{"n":3301,"z":190,"d":280,"w":160,"l":570,"s":0.999},{"n":3320,"z":10,"d":170,"w":160,"l":570,"s":1.0},{"n":3321,"z":190,"d":100,"w":160,"l":570,"s":0.999},{"n":3340,"z":10,"d":40,"w":160,"l":570,"s":1.0},{"n":3341,"z":190,"d":10,"w":160,"l":570,"s":0.999},
{"n":3360,"z":10,"d":280,"w":110,"l":570,"s":1.0},{"n":3361,"z":190,"d":170,"w":110,"l":570,"s":0.999},{"n":3380,"z":10,"d":100,"w":110,"l":570,"s":1.0},{"n":3381,"z":190,"d":40,"w":110,"l":570,"s":0.999},{"n":3400,"z":10,"d":10,"w":110,"l":570,"s":1.0},
{"n":3401,"z":190,"d":280,"w":70,"l":570,"s":0.999},{"n":3420,"z":10,"d":170,"w":70,"l":570,"s":0.999},{"n":3421,"z":190,"d":100,"w":70,"l":570,"s":0.999},{"n":3440,"z":10,"d":40,"w":70,"l":570,"s":0.999},{"n":3441,"z":190,"d":10,"w":70,"l":570,"s":0.999},
{"n":3460,"z":10,"d":280,"w":40,"l":570,"s":0.999},{"n":3461,"z":190,"d":170,"w":40,"l":570,"s":0.999},{"n":3480,"z":10,"d":100,"w":40,"l":570,"s":0.999},{"n":3481,"z":190,"d":40,"w":40,"l":570,"s":0.999},{"n":3500,"z":10,"d":10,"w":40,"l":570,"s":0.999},
{"n":3501,"z":190,"d":280,"w":20,"l":570,"s":0.999},{"n":3520,"z":10,"d":170,"w":20,"l":570,"s":0.999},{"n":3521,"z":190,"d":100,"w":20,"l":570,"s":0.999},{"n":3540,"z":10,"d":40,"w":20,"l":570,"s":0.999},{"n":3541,"z":190,"d":10,"w":20,"l":570,"s":0.998},
{"n":3560,"z":10,"d":280,"w":10,"l":570,"s":0.999},{"n":3561,"z":190,"d":170,"w":10,"l":570,"s":0.998},{"n":3580,"z":10,"d":100,"w":10,"l":570,"s":0.998},{"n":3581,"z":190,"d":40,"w":10,"l":570,"s":0.998},{"n":3600,"z":10,"d":10,"w":10,"l":570,"s":0.998}
]},
"layer": [
 {
  "data": {"name": "sim"},
  "layer": [
   {
    "mark": {"type": "line", "strokeWidth": 1, "strokeOpacity": 0.75, "point": {"filled": true, "size": 7, "shape": "square", "opacity": 1}},
    "encoding": {
     "x": {"field": "n", "type": "quantitative", "scale": {"type": "log", "domain": [1, 3600], "nice": false},
           "axis": {"orient": "bottom", "values": [1, 10, 100, 1000], "format": "d", "tickSize": -7, "labelPadding": 13, "title": "Simulation number", "titlePadding": 10}},
     "y": {"field": "z", "type": "quantitative", "scale": {"domain": [0, 700], "nice": false, "zero": false},
           "axis": {"orient": "left", "values": [0, 100, 200, 300, 400, 500, 600, 700], "format": "d", "tickSize": -7, "labelPadding": 14, "title": "z, d, w, λL (nm)", "titleX": -64, "titleY": 215, "titleBaseline": "middle", "titleAngle": -90}},
     "color": {"datum": "z", "type": "nominal",
               "scale": {"domain": ["z", "d", "w", "λL"], "range": ["#0000ff", "#ff8000", "#800080", "#1fb4d2"]},
               "legend": {"orient": "none", "legendX": 13, "legendY": 101, "title": null, "strokeColor": "black", "fillColor": "white", "padding": 5, "cornerRadius": 0, "symbolType": "M-1,0H3M0.82,-0.16H1.18V0.16H0.82Z", "symbolSize": 400, "symbolStrokeWidth": 1, "labelFont": "Liberation Sans", "labelFontStyle": "italic", "labelFontSize": 16, "labelOffset": 27, "rowPadding": 3, "zindex": 1}}
    }
   },
   {
    "mark": {"type": "line", "strokeWidth": 1, "strokeOpacity": 0.75, "point": {"filled": true, "size": 7, "shape": "square", "opacity": 1}},
    "encoding": {
     "x": {"field": "n", "type": "quantitative", "scale": {"type": "log"},
           "axis": {"orient": "bottom", "values": [2,3,4,5,6,7,8,9,20,30,40,50,60,70,80,90,200,300,400,500,600,700,800,900,2000,3000], "labels": false, "domain": false, "tickSize": -4, "title": null}},
     "y": {"field": "d", "type": "quantitative",
           "axis": {"orient": "left", "values": [50,150,250,350,450,550,650], "labels": false, "domain": false, "tickSize": -4, "title": null}},
     "color": {"datum": "d", "type": "nominal"}
    }
   },
   {
    "mark": {"type": "line", "strokeWidth": 1, "strokeOpacity": 0.75, "point": {"filled": true, "size": 7, "shape": "square", "opacity": 1}},
    "encoding": {
     "x": {"field": "n", "type": "quantitative", "scale": {"type": "log"},
           "axis": {"orient": "top", "values": [1, 10, 100, 1000], "labels": false, "tickSize": -7, "title": null}},
     "y": {"field": "w", "type": "quantitative", "axis": null},
     "color": {"datum": "w", "type": "nominal"}
    }
   },
   {
    "mark": {"type": "line", "strokeWidth": 1, "strokeOpacity": 0.75, "point": {"filled": true, "size": 7, "shape": "square", "opacity": 1}},
    "encoding": {
     "x": {"field": "n", "type": "quantitative", "scale": {"type": "log"},
           "axis": {"orient": "top", "values": [2,3,4,5,6,7,8,9,20,30,40,50,60,70,80,90,200,300,400,500,600,700,800,900,2000,3000], "labels": false, "domain": false, "tickSize": -4, "title": null}},
     "y": {"field": "l", "type": "quantitative", "axis": null},
     "color": {"datum": "λL", "type": "nominal"}
    }
   },
   {
    "data": {"values": [{"label": "l = 500 nm"}]},
    "mark": {"type": "text", "align": "left", "baseline": "middle", "fontSize": 15, "font": "Liberation Sans", "color": "black"},
    "encoding": {
     "x": {"datum": 1.23, "type": "quantitative", "scale": {"type": "log"}, "axis": null},
     "y": {"datum": 664, "type": "quantitative", "axis": null},
     "text": {"field": "label"}
    }
   }
  ],
  "resolve": {"axis": {"x": "independent", "y": "independent"}}
 },
 {
  "data": {"name": "sim"},
  "layer": [
   {
    "mark": {"type": "line", "strokeWidth": 1, "color": "black"},
    "encoding": {
     "x": {"field": "n", "type": "quantitative", "scale": {"type": "log"}, "axis": null},
     "y": {"field": "s", "type": "quantitative", "scale": {"domain": [0, 1.4], "nice": false, "zero": false},
           "axis": {"orient": "right", "values": [0, 0.2, 0.4, 0.6, 0.8, 1.0, 1.2, 1.4], "format": ".1f", "tickSize": -7, "labelPadding": 10, "title": "δ", "titleFont": "DejaVu Serif", "titleFontStyle": "italic", "titleFontSize": 16, "titleAngle": 90, "titleX": 39, "titleY": 193, "titleBaseline": "middle"}},
     "color": {"datum": "δ", "type": "nominal", "scale": {"domain": ["δ"], "range": ["black"]},
               "legend": {"orient": "none", "legendX": 400, "legendY": 53, "title": null, "padding": 0, "symbolType": "M-1,0H3M0.82,-0.16H1.18V0.16H0.82Z", "symbolSize": 400, "symbolStrokeWidth": 1, "labelFont": "DejaVu Serif", "labelFontStyle": "italic", "labelFontSize": 18, "labelOffset": 26, "zindex": 1}}
    }
   },
   {
    "mark": {"type": "point", "filled": true, "size": 7, "shape": "square", "opacity": 1},
    "encoding": {
     "x": {"field": "n", "type": "quantitative", "scale": {"type": "log"}, "axis": null},
     "y": {"field": "s", "type": "quantitative",
           "axis": {"orient": "right", "values": [0.1, 0.3, 0.5, 0.7, 0.9, 1.1, 1.3], "labels": false, "domain": false, "tickSize": -4, "title": null}},
     "color": {"datum": "δ", "type": "nominal"}
    }
   }
  ],
  "resolve": {"axis": {"y": "independent"}}
 }
],
"resolve": {"scale": {"y": "independent", "color": "independent"}}
}
